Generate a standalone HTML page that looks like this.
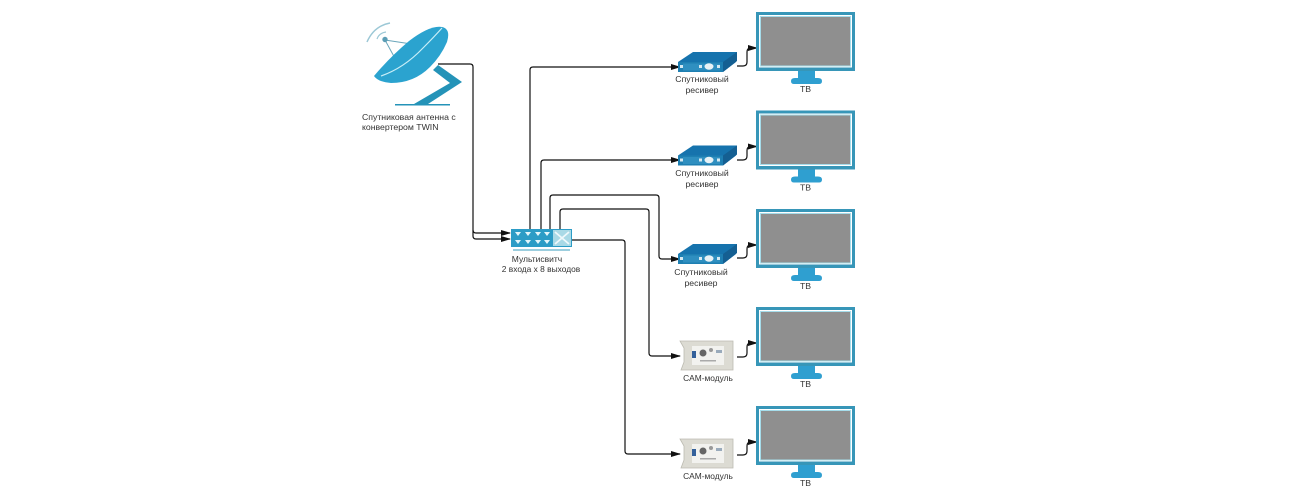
<!DOCTYPE html>
<html><head><meta charset="utf-8"><style>
html,body{margin:0;padding:0;background:#fff}
svg{display:block}
text{font-family:"Liberation Sans",sans-serif;font-size:8.700px;fill:#333}
</style></head><body>
<svg width="1300" height="500" viewBox="0 0 1300 500" xmlns="http://www.w3.org/2000/svg">
<defs>
<marker id="a" markerWidth="10" markerHeight="7" refX="9" refY="3.500" orient="auto" markerUnits="userSpaceOnUse"><path d="M0 0.500L10 3.500L0 6.500Z" fill="#111"/></marker>
<g id="tv">
<path d="M798 71h17v7h3q4 0 4 3q0 3-3 3h-25q-3 0-3-3q0-3 4-3h3z" fill="#2f9fd0"/>
<rect x="756" y="12" width="99" height="59" fill="#3796b8"/>
<rect x="759" y="15" width="93" height="52.500" fill="#fff"/>
<rect x="760" y="16" width="91" height="50.500" fill="#a5dcea"/>
<rect x="761" y="17" width="89" height="48.500" fill="#8f8f8f"/>
<text x="805.500" y="92" text-anchor="middle">ТВ</text>
</g>
<g id="rx">
<path d="M678 62L693 52H737L736 62L723 72H678Z" fill="#1673ad"/>
<path d="M723 62L737 52V61L723 72Z" fill="#145f92"/>
<rect x="678" y="62" width="45" height="10" fill="#1e7fb2"/>
<rect x="683" y="63.500" width="37" height="7" fill="#2f8fc0"/>
<ellipse cx="709" cy="66.500" rx="4.500" ry="3.200" fill="#e8f2f6"/>
<rect x="680" y="65" width="3" height="3" fill="#d5e9f2"/>
<rect x="699" y="65" width="3" height="3" fill="#d5e9f2"/>
<rect x="717" y="65" width="3" height="3" fill="#d5e9f2"/>
</g>
<g id="cam">
<path d="M680 341H733V370H681L684 362V348Z" fill="#dcdbd3" stroke="#bcbbb1" stroke-width="0.800"/>
<rect x="692" y="346" width="32" height="19" fill="#f2f2ef"/>
<rect x="692" y="351" width="4" height="7" fill="#33609a"/>
<circle cx="703" cy="353" r="3.500" fill="#666"/>
<circle cx="711" cy="350" r="2" fill="#999"/>
<rect x="716" y="350" width="6" height="3" fill="#9ab"/>
<rect x="700" y="360" width="16" height="1.500" fill="#aaa"/>
</g>
</defs>

<!-- connectors -->
<g fill="none" stroke="#111" stroke-width="1.200">
<path d="M438 64H470q3 0 3 3V230q0 3 3 3H510" marker-end="url(#a)"/>
<path d="M473 230V236q0 3 3 3H510" marker-end="url(#a)"/>
<path d="M530 229V70q0-3 3-3H680" marker-end="url(#a)"/>
<path d="M541 229V163q0-3 3-3H680" marker-end="url(#a)"/>
<path d="M550 229V198q0-3 3-3H656q3 0 3 3V256q0 3 3 3H680" marker-end="url(#a)"/>
<path d="M560 229V212q0-3 3-3H646q3 0 3 3V353q0 3 3 3H680" marker-end="url(#a)"/>
<path d="M572 240H622q3 0 3 3V451q0 3 3 3H680" marker-end="url(#a)"/>
<path d="M737 66H743Q747 66 747 62V52Q747 48 751 48H757" marker-end="url(#a)"/>
<path d="M737 160H743Q747 160 747 156V150.500Q747 146.500 751 146.500H757" marker-end="url(#a)"/>
<path d="M737 258H743Q747 258 747 254V249Q747 245 751 245H757" marker-end="url(#a)"/>
<path d="M737 357H743Q747 357 747 353V347Q747 343 751 343H757" marker-end="url(#a)"/>
<path d="M737 455H743Q747 455 747 451V446Q747 442 751 442H757" marker-end="url(#a)"/>
</g>

<!-- antenna -->
<path d="M390 23Q374 26 367 42" fill="none" stroke="#9cc8d6" stroke-width="1.500"/>
<path d="M386 32Q379 33 377 39" fill="none" stroke="#9cc8d6" stroke-width="1.200"/>
<path d="M385 40L397 62M385 40L418 45" stroke="#6aa6bb" stroke-width="1" fill="none"/>
<circle cx="385" cy="39.500" r="2.700" fill="#5a9db5"/>
<path d="M374 76Q390 57 409 41Q430 25 442 27Q451 29 447 42Q441 56 430 67Q414 83 391 83Q378 82 374 76Z" fill="#2ba3cf"/>
<path d="M381 76Q404 68 423 48Q434 37 442 28" fill="none" stroke="#c8eef7" stroke-width="1.200"/>
<path d="M433 70L438 65L462 82L428 104H450V105.500H395V104H414L450 83Z" fill="#2493b8"/>
<text x="362" y="120">Спутниковая антенна с</text>
<text x="362" y="130">конвертером TWIN</text>

<!-- multiswitch -->
<rect x="511" y="229" width="61" height="18" fill="#2c9cc6"/>
<rect x="553" y="230" width="18" height="16" fill="#a9d9e6"/>
<path d="M555 232L569 244M569 232L555 244" stroke="#eef8fb" stroke-width="1.800"/>
<rect x="513" y="249.500" width="57" height="1" fill="#3a9cbd"/>
<g fill="#e4f6fb">
<path d="M515 232h6l-3 4zM525 232h6l-3 4zM535 232h6l-3 4zM544 232h6l-3 4z"/>
<path d="M515 240h6l-3 4zM525 240h6l-3 4zM535 240h6l-3 4zM544 240h6l-3 4z"/>
</g>
<text x="537" y="262" text-anchor="middle" style="font-size:8.500px">Мультисвитч</text>
<text x="541" y="272" text-anchor="middle" style="font-size:8.400px">2 входа x 8 выходов</text>

<!-- TVs -->
<use href="#tv"/>
<use href="#tv" y="98.500"/>
<use href="#tv" y="197"/>
<use href="#tv" y="295"/>
<use href="#tv" y="394"/>

<!-- receivers -->
<use href="#rx"/>
<use href="#rx" y="93.500"/>
<use href="#rx" y="192"/>
<g text-anchor="middle">
<text x="702" y="82">Спутниковый</text><text x="702" y="93">ресивер</text>
<text x="702" y="176">Спутниковый</text><text x="702" y="187">ресивер</text>
<text x="701" y="275">Спутниковый</text><text x="701" y="286">ресивер</text>
<text x="708" y="381" style="font-size:8.400px">CAM-модуль</text>
<text x="708" y="479" style="font-size:8.400px">CAM-модуль</text>
</g>

<!-- CAM modules -->
<use href="#cam"/>
<use href="#cam" y="98"/>
</svg>
</body></html>
